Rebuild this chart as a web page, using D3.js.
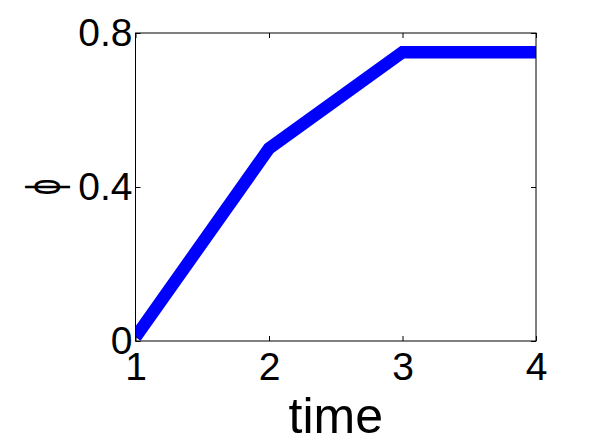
<!DOCTYPE html>
<html>
<head>
<meta charset="utf-8">
<script src="https://cdn.jsdelivr.net/npm/d3@7"></script>
<style>
  body { margin: 0; background: #fff; }
  text { font-family: "Liberation Sans", Arial, sans-serif; fill: #000; }
</style>
</head>
<body>
<div id="graph"></div>
<script>
let times = [1, 2, 3, 4];
let phiValues = [0.01, 0.5, 0.75, 0.75];
let xTicks = [1, 2, 3, 4];
let yTicks = [0, 0.4, 0.8];

let width = 592, height = 443;
let margin = { left: 135.5, right: 56, top: 33, bottom: 102 };
let plotW = width - margin.left - margin.right;
let plotH = height - margin.top - margin.bottom;

let svg = d3.select("#graph")
    .append("svg")
    .attr("width", width)
    .attr("height", height)
    .append("g")
    .attr("transform", `translate(${margin.left}, ${margin.top})`);

let x = d3.scaleLinear().domain([1, 4]).range([0, plotW]);
let y = d3.scaleLinear().domain([0, 0.8]).range([plotH, 0]);

svg.append("clipPath")
    .attr("id", "clip")
    .append("rect")
    .attr("width", plotW)
    .attr("height", plotH);

let line = d3.line()
    .x((d, i) => x(times[i]))
    .y(d => y(d));

svg.append("path")
    .datum(phiValues)
    .attr("clip-path", "url(#clip)")
    .attr("fill", "none")
    .attr("stroke", "#0000ff")
    .attr("stroke-width", 12.5)
    .attr("stroke-linejoin", "miter")
    .attr("d", line);

// box + inward ticks on all four sides
let styleAxis = g => {
    g.select(".domain").remove();
    g.selectAll(".tick line").attr("stroke", "#000");
    g.selectAll("text").style("font-size", "39px").attr("fill", "#000");
};

svg.append("g")
    .attr("transform", `translate(0, ${plotH})`)
    .call(d3.axisBottom(x).tickValues(xTicks).tickFormat(d3.format("d"))
        .tickSizeInner(-5).tickSizeOuter(0).tickPadding(11))
    .call(styleAxis);

svg.append("g")
    .call(d3.axisTop(x).tickValues(xTicks).tickFormat("")
        .tickSizeInner(-5).tickSizeOuter(0))
    .call(styleAxis);

svg.append("g")
    .call(d3.axisLeft(y).tickValues(yTicks).tickFormat(d => d === 0 ? "0" : d3.format(".1f")(d))
        .tickSizeInner(-5).tickSizeOuter(0).tickPadding(3))
    .call(styleAxis);

svg.append("g")
    .attr("transform", `translate(${plotW}, 0)`)
    .call(d3.axisRight(y).tickValues(yTicks).tickFormat("")
        .tickSizeInner(-5).tickSizeOuter(0))
    .call(styleAxis);

svg.append("rect")
    .attr("width", plotW)
    .attr("height", plotH)
    .attr("fill", "none")
    .attr("stroke", "#000")
    .attr("stroke-width", 1);

svg.append("text")
    .attr("x", plotW / 2)
    .attr("y", 433 - margin.top)
    .style("text-anchor", "middle")
    .style("font-size", "50px")
    .text("time");

// rotated phi, squeezed across like the original
svg.append("text")
    .attr("transform", `translate(${60 - margin.left}, ${187 - margin.top}) rotate(-90) scale(0.6, 1)`)
    .style("text-anchor", "middle")
    .style("font-size", "48px")
    .text("ϕ");
</script>
</body>
</html>
